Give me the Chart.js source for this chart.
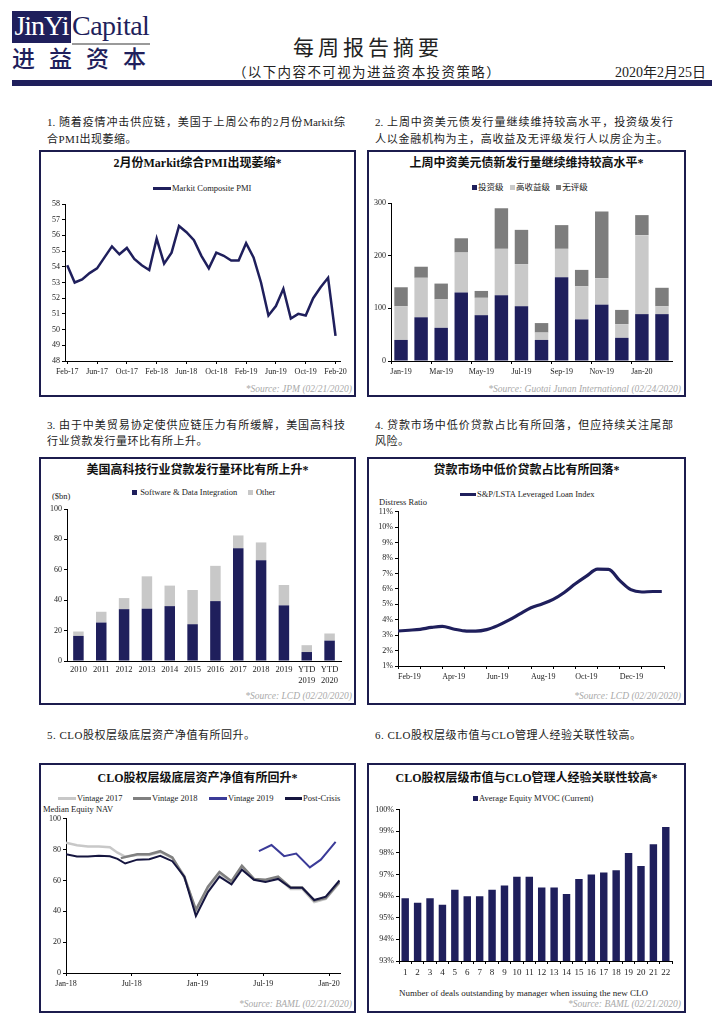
<!DOCTYPE html>
<html>
<head>
<meta charset="utf-8">
<script src="https://cdn.jsdelivr.net/npm/chart.js@4.4.0/dist/chart.umd.min.js"></script>
<style>
body{margin:0;width:724px;height:1024px;background:#fff;position:relative;overflow:hidden;font-family:"Liberation Serif","Noto Sans CJK SC",serif;color:#222}
.abs{position:absolute;white-space:nowrap}
.box{position:absolute;border:2px solid #1c1c4e;box-sizing:border-box}
.ttl{position:absolute;text-align:center;font-weight:bold;font-size:12px;line-height:18px;color:#111;white-space:nowrap}
.src{position:absolute;font-style:italic;color:#a9a9a9;font-size:9.5px;line-height:12px;white-space:nowrap}
.lg{position:absolute;font-size:8.5px;line-height:10px;white-space:nowrap;color:#222}
.lg i{display:inline-block;vertical-align:middle;margin:0 1px 1px 0}
.para{position:absolute;font-size:11px;line-height:16.5px;letter-spacing:0.5px;color:#222}
.para div{white-space:nowrap}
.para .j{text-align:justify;text-align-last:justify;white-space:normal;letter-spacing:0}
canvas{position:absolute}
</style>
</head>
<body>

<!-- header -->
<div class="abs" style="left:12px;top:11px;width:59px;height:32px;background:#1f1f5c"></div>
<div class="abs" style="left:12px;top:9px;width:59px;text-align:center;color:#fff;font-size:28px;line-height:34px;letter-spacing:-1px">JinYi</div>
<div class="abs" style="left:72px;top:9px;color:#1f1f5c;font-size:28px;line-height:34px;letter-spacing:-0.5px">Capital</div>
<div class="abs" style="left:72px;top:43px;width:78px;height:2px;background:#9a9a9a"></div>
<div class="abs" style="left:12px;top:46px;color:#1f1f5c;font-size:23px;line-height:28px;font-weight:500;letter-spacing:14px">进益资本</div>
<div class="abs" style="left:266px;top:34px;width:204px;text-align:center;font-size:21px;line-height:28px;letter-spacing:4px;color:#222">每周报告摘要</div>
<div class="abs" style="left:222px;top:64px;width:290px;text-align:center;font-size:13.5px;line-height:18px;letter-spacing:1.4px;color:#222">（以下内容不可视为进益资本投资策略）</div>
<div class="abs" style="left:560px;top:64px;width:146px;text-align:right;font-size:14px;line-height:18px;color:#222">2020年2月25日</div>
<div class="abs" style="left:12px;top:80px;width:700px;height:6px;background:#1f1f5c"></div>

<!-- paragraphs -->
<div class="para" style="left:47px;top:114px;width:298px"><div class="j">1. 随着疫情冲击供应链，美国于上周公布的2月份Markit综</div><div>合PMI出现萎缩。</div></div>
<div class="para" style="left:375px;top:114px;width:298px"><div class="j">2. 上周中资美元债发行量继续维持较高水平，投资级发行</div><div class="j" style="width:293px">人以金融机构为主，高收益及无评级发行人以房企为主。</div></div>
<div class="para" style="left:47px;top:416.5px;width:298px"><div class="j">3. 由于中美贸易协定使供应链压力有所缓解，美国高科技</div><div>行业贷款发行量环比有所上升。</div></div>
<div class="para" style="left:375px;top:416.5px;width:298px"><div class="j">4. 贷款市场中低价贷款占比有所回落，但应持续关注尾部</div><div>风险。</div></div>
<div class="para" style="left:47px;top:727px"><div>5. CLO股权层级底层资产净值有所回升。</div></div>
<div class="para" style="left:375px;top:727px"><div>6. CLO股权层级市值与CLO管理人经验关联性较高。</div></div>

<!-- boxes -->
<div class="box" style="left:39px;top:150px;width:317px;height:247px"></div>
<div class="box" style="left:367px;top:150px;width:319px;height:247px"></div>
<div class="box" style="left:39px;top:457px;width:317px;height:248px"></div>
<div class="box" style="left:367px;top:457px;width:319px;height:248px"></div>
<div class="box" style="left:39px;top:763px;width:317px;height:250px"></div>
<div class="box" style="left:367px;top:763px;width:319px;height:250px"></div>

<!-- titles -->
<div class="ttl" style="left:39px;width:317px;top:154px">2月份Markit综合PMI出现萎缩*</div>
<div class="ttl" style="left:367px;width:319px;top:154px">上周中资美元债新发行量继续维持较高水平*</div>
<div class="ttl" style="left:39px;width:317px;top:461px">美国高科技行业贷款发行量环比有所上升*</div>
<div class="ttl" style="left:367px;width:319px;top:461px">贷款市场中低价贷款占比有所回落*</div>
<div class="ttl" style="left:39px;width:317px;top:769px">CLO股权层级底层资产净值有所回升*</div>
<div class="ttl" style="left:367px;width:319px;top:769px">CLO股权层级市值与CLO管理人经验关联性较高*</div>

<!-- legends -->
<div class="lg" style="left:153px;top:183px"><i style="width:18px;height:3px;background:#1f1f5c"></i>Markit Composite PMI</div>
<div class="lg" style="left:472px;top:182px"><i style="width:5px;height:5px;background:#1f1f5c"></i>投资级 &nbsp;&nbsp;<i style="width:5px;height:5px;background:#c9c9c9"></i>高收益级 &nbsp;&nbsp;<i style="width:5px;height:5px;background:#7d7d7d"></i>无评级</div>
<div class="lg" style="left:132px;top:487px"><i style="width:5px;height:5px;background:#1f1f5c"></i> Software &amp; Data Integration &nbsp;&nbsp;&nbsp;&nbsp;<i style="width:5px;height:5px;background:#c8c8c8"></i> Other</div>
<div class="lg" style="left:52px;top:491px">($bn)</div>
<div class="lg" style="left:460px;top:489px"><i style="width:16px;height:3px;background:#1f1f5c"></i>S&amp;P/LSTA Leveraged Loan Index</div>
<div class="lg" style="left:379px;top:497px">Distress Ratio</div>
<div class="lg" style="left:58px;top:793px"><i style="width:18px;height:2.5px;background:#c8c8c8"></i>Vintage 2017</div>
<div class="lg" style="left:133px;top:793px"><i style="width:18px;height:2.5px;background:#808080"></i>Vintage 2018</div>
<div class="lg" style="left:209px;top:793px"><i style="width:18px;height:2.5px;background:#3b3b98"></i>Vintage 2019</div>
<div class="lg" style="left:285px;top:793px"><i style="width:17px;height:2.5px;background:#15153f"></i>Post-Crisis</div>
<div class="lg" style="left:43px;top:804px">Median Equity NAV</div>
<div class="lg" style="left:473px;top:793px"><i style="width:5px;height:5px;background:#1f1f5c"></i>Average Equity MVOC (Current)</div>
<div class="lg" style="left:399px;top:988px;font-size:9px">Number of deals outstanding by manager when issuing the new CLO</div>

<!-- sources -->
<div class="src" style="right:372px;top:383px">*Source: JPM (02/21/2020)</div>
<div class="src" style="right:43px;top:383px">*Source: Guotai Junan International (02/24/2020)</div>
<div class="src" style="right:372px;top:690px">*Source: LCD (02/20/2020)</div>
<div class="src" style="right:43px;top:690px">*Source: LCD (02/20/2020)</div>
<div class="src" style="right:372px;top:998px">*Source: BAML (02/21/2020)</div>
<div class="src" style="right:43px;top:998px">*Source: BAML (02/21/2020)</div>

<canvas id="c1" width="313" height="189" style="left:41px;top:196px"></canvas>
<canvas id="c2" width="315" height="189" style="left:369px;top:196px"></canvas>
<canvas id="c3" width="313" height="190" style="left:41px;top:500px"></canvas>
<canvas id="c4" width="315" height="185" style="left:369px;top:505px"></canvas>
<canvas id="c5" width="313" height="183" style="left:41px;top:812px"></canvas>
<canvas id="c6" width="315" height="182" style="left:369px;top:803px"></canvas>

<script>
// ---- chart 1: Markit composite PMI, Feb-17 .. Feb-20 (monthly)
const pmiValues = [54.1, 53.0, 53.2, 53.6, 53.9, 54.6, 55.3, 54.8, 55.2, 54.5, 54.1, 53.8,
    55.8, 54.2, 54.9, 56.6, 56.2, 55.7, 54.7, 53.9, 54.9, 54.7, 54.4, 54.4,
    55.5, 54.6, 53.0, 50.9, 51.5, 52.6, 50.7, 51.0, 50.9, 52.0, 52.7, 53.3, 49.6];
const pmiTickIdx = [0, 4, 8, 12, 16, 20, 24, 28, 32, 36];
const pmiTickLabels = ['Feb-17', 'Jun-17', 'Oct-17', 'Feb-18', 'Jun-18', 'Oct-18', 'Feb-19', 'Jun-19', 'Oct-19', 'Feb-20'];

// ---- chart 2: USD bond issuance by Chinese issuers
const issueMonths = ['Jan-19', 'Feb-19', 'Mar-19', 'Apr-19', 'May-19', 'Jun-19', 'Jul-19', 'Aug-19', 'Sep-19', 'Oct-19', 'Nov-19', 'Dec-19', 'Jan-20', 'Feb-20'];
const issueIG = [40, 83, 63, 130, 87, 125, 104, 40, 159, 79, 107, 44, 89, 89];
const issueHY = [64, 75, 54, 76, 33, 88, 80, 14, 54, 63, 50, 26, 150, 15];
const issueNR = [36, 21, 30, 27, 13, 77, 65, 18, 45, 31, 127, 27, 38, 35];

// ---- chart 3: US tech loan issuance ($bn)
const techYears = ['2010', '2011', '2012', '2013', '2014', '2015', '2016', '2017', '2018', '2019', ['YTD', '2019'], ['YTD', '2020']];
const techSoftware = [16.5, 25.3, 34.1, 34.4, 36.1, 24.2, 39.4, 74.2, 66.3, 36.6, 5.9, 13.4];
const techOther = [2.9, 7.1, 7.3, 21.3, 13.5, 22.5, 23.2, 8.4, 11.7, 13.4, 4.5, 4.7];

// ---- chart 4: distress ratio (months since Feb-19)
const loanMonth = [0, 0.5, 1, 1.5, 2, 2.5, 3, 3.5, 4, 4.5, 5, 5.5, 6, 6.5, 7, 7.5, 8, 8.5, 9, 9.5, 10, 10.5, 11, 11.5, 11.9];
const loanRatio = [3.27, 3.32, 3.38, 3.5, 3.57, 3.4, 3.28, 3.26, 3.36, 3.62, 3.97, 4.38, 4.78, 5.02, 5.32, 5.77, 6.33, 6.83, 7.28, 7.27, 6.55, 5.95, 5.8, 5.83, 5.83];
const loanTickLabels = ['Feb-19', 'Apr-19', 'Jun-19', 'Aug-19', 'Oct-19', 'Dec-19'];

// ---- chart 5: CLO median equity NAV (months since Jan-18)
const navMonth = [0, 1, 2, 3, 4, 4.7, 5.4, 6.5, 7.6, 8.6, 9.7, 10.8, 11.85, 12.95, 14, 15.1, 16.05, 17.15, 18.2, 19.35, 20.5, 21.55, 22.65, 23.7, 24.95];
const navPostCrisis = [77, 75.5, 75.5, 76, 75.7, 74, 71, 73.5, 73.8, 76, 72.5, 62.5, 37, 52.5, 62.5, 57.5, 67, 60.5, 59, 61, 55.3, 55.3, 47.3, 49.5, 60];
const navV2017 = [84.5, 82.8, 82, 82, 81.5, 78, 75.5, 76.5, 76.5, 78.5, 74.5, 63, 40, 55, 64.5, 59, 68.5, 60.5, 60, 61.5, 54.5, 54.5, 46, 48, 58.5];
const navMonth2018 = [5.0, 6.5, 7.6, 8.6, 9.7, 10.8, 11.85, 12.95, 14, 15.1, 16.05, 17.15, 18.2, 19.35, 20.5, 21.55, 22.65, 23.7, 24.95];
const navV2018 = [74.5, 77, 77, 79, 75, 62, 41, 56, 65.5, 59.5, 69.5, 61, 60.5, 62.5, 55.5, 55.5, 47, 48.5, 59];
const navMonth2019 = [17.6, 18.75, 19.9, 21, 22.25, 23.25, 24.6];
const navV2019 = [79, 83, 75.8, 77.5, 68.5, 73.5, 85];
const navTickIdx = [0, 6, 12, 18, 24];
const navTickLabels = ['Jan-18', 'Jul-18', 'Jan-19', 'Jul-19', 'Jan-20'];

// ---- chart 6: average equity MVOC by number of deals
const dealCounts = ['1', '2', '3', '4', '5', '6', '7', '8', '9', '10', '11', '12', '13', '14', '15', '16', '17', '18', '19', '20', '21', '22'];
const mvoc = [95.9, 95.7, 95.9, 95.6, 96.3, 96.0, 96.0, 96.3, 96.5, 96.9, 96.9, 96.4, 96.4, 96.1, 96.8, 97.0, 97.1, 97.2, 98.0, 97.4, 98.4, 99.2];

const NAVY = '#1f1f5c';

Chart.defaults.font.family = '"Liberation Serif","Noto Sans CJK SC",serif';
Chart.defaults.font.size = 8;
Chart.defaults.color = '#222';

function pts(xs, ys) {
    return ys.map((v, i) => ({ x: xs[i], y: v }));
}

function baseOpts(pad, scales) {
    return {
        responsive: false,
        animation: false,
        layout: { padding: pad },
        plugins: { legend: { display: false }, tooltip: { enabled: false } },
        scales: scales
    };
}

function yAxis(w, min, max, step, fmt) {
    return {
        min: min, max: max,
        afterFit: s => { s.width = w; },
        border: { color: '#000' },
        grid: { drawOnChartArea: false, tickLength: 3, color: '#000' },
        ticks: { stepSize: step, padding: 2, color: '#222', callback: fmt || (v => v) }
    };
}

function xGrid(showFn) {
    return {
        drawOnChartArea: false, tickLength: 3,
        color: ctx => (showFn ? (showFn(ctx.index) ? '#000' : 'rgba(0,0,0,0)') : '#000')
    };
}

// chart 1
new Chart(document.getElementById('c1'), {
    type: 'line',
    data: { datasets: [{ data: pmiValues.map((v, i) => ({ x: i, y: v })), borderColor: NAVY, borderWidth: 2.5, pointRadius: 0, tension: 0 }] },
    options: baseOpts({ top: 8, right: 14, bottom: 2, left: 0 }, {
        x: {
            type: 'linear', min: -0.3, max: 36.6,
            afterBuildTicks: s => { s.ticks = pmiTickIdx.map(v => ({ value: v })); },
            afterFit: s => { s.height = 22; },
            border: { color: '#000' }, grid: xGrid(),
            ticks: { padding: 3, maxRotation: 0, autoSkip: false, callback: (v, i) => pmiTickLabels[i] }
        },
        y: yAxis(24, 48, 58, 1)
    })
});

// chart 2
new Chart(document.getElementById('c2'), {
    type: 'bar',
    data: {
        labels: issueMonths,
        datasets: [
            { label: '投资级', data: issueIG, backgroundColor: NAVY },
            { label: '高收益级', data: issueHY, backgroundColor: '#c9c9c9' },
            { label: '无评级', data: issueNR, backgroundColor: '#7d7d7d' }
        ]
    },
    options: Object.assign(baseOpts({ top: 7, right: 12, bottom: 2, left: 0 }, {
        x: {
            stacked: true,
            afterFit: s => { s.height = 22; },
            border: { color: '#000' },
            grid: Object.assign(xGrid(i => i % 2 === 0), { offset: true }),
            ticks: { padding: 3, maxRotation: 0, autoSkip: false, callback: (v, i) => (i % 2 === 0 ? issueMonths[i] : '') }
        },
        y: Object.assign(yAxis(22, 0, 300, 100), { stacked: true })
    }), { datasets: { bar: { barPercentage: 0.67, categoryPercentage: 1 } } })
});

// chart 3
new Chart(document.getElementById('c3'), {
    type: 'bar',
    data: {
        labels: techYears,
        datasets: [
            { label: 'Software & Data Integration', data: techSoftware, backgroundColor: NAVY },
            { label: 'Other', data: techOther, backgroundColor: '#c8c8c8' }
        ]
    },
    options: Object.assign(baseOpts({ top: 9, right: 13, bottom: 2, left: 0 }, {
        x: {
            stacked: true,
            afterFit: s => { s.height = 27; },
            border: { color: '#000' }, grid: { display: false, drawTicks: false },
            ticks: { padding: 4, maxRotation: 0, autoSkip: false, font: { size: 8.5 } }
        },
        y: Object.assign(yAxis(26, 0, 100, 20), { stacked: true })
    }), { datasets: { bar: { barPercentage: 0.46, categoryPercentage: 1 } } })
});

// chart 4
new Chart(document.getElementById('c4'), {
    type: 'line',
    data: { datasets: [{ data: pts(loanMonth, loanRatio), borderColor: NAVY, borderWidth: 3.2, pointRadius: 0, cubicInterpolationMode: 'monotone' }] },
    options: baseOpts({ top: 6, right: 20, bottom: 2, left: 0 }, {
        x: {
            type: 'linear', min: 0, max: 12,
            afterBuildTicks: s => { s.ticks = [0, 1, 2, 3, 4, 5, 6, 7, 8, 9, 10, 11, 12].map(v => ({ value: v })); },
            afterFit: s => { s.height = 22; },
            border: { color: '#000' }, grid: xGrid(),
            ticks: { padding: 3, align: 'start', maxRotation: 0, autoSkip: false, callback: (v, i) => (i % 2 === 0 && i < 12 ? loanTickLabels[i / 2] : '') }
        },
        y: yAxis(29, 1, 11, 1, v => v + '%')
    })
});

// chart 5
new Chart(document.getElementById('c5'), {
    type: 'line',
    data: {
        datasets: [
            { data: pts(navMonth, navPostCrisis), borderColor: '#15153f', borderWidth: 2, pointRadius: 0, tension: 0, order: 0 },
            { data: pts(navMonth2019, navV2019), borderColor: '#3b3b98', borderWidth: 2, pointRadius: 0, tension: 0, order: 1 },
            { data: pts(navMonth2018, navV2018), borderColor: '#808080', borderWidth: 2.5, pointRadius: 0, tension: 0, order: 2 },
            { data: pts(navMonth, navV2017), borderColor: '#c8c8c8', borderWidth: 2.5, pointRadius: 0, tension: 0, order: 3 }
        ]
    },
    options: baseOpts({ top: 5, right: 14, bottom: 0, left: 0 }, {
        x: {
            type: 'linear', min: 0, max: 25,
            afterBuildTicks: s => { s.ticks = navTickIdx.map(v => ({ value: v })); },
            afterFit: s => { s.height = 22; },
            border: { color: '#000' }, grid: xGrid(),
            ticks: { padding: 3, maxRotation: 0, autoSkip: false, callback: (v, i) => navTickLabels[i] }
        },
        y: yAxis(25, 0, 100, 20)
    })
});

// chart 6
new Chart(document.getElementById('c6'), {
    type: 'bar',
    data: { labels: dealCounts, datasets: [{ label: 'Average Equity MVOC (Current)', data: mvoc, backgroundColor: NAVY }] },
    options: Object.assign(baseOpts({ top: 5, right: 12, bottom: 8, left: 0 }, {
        x: {
            afterFit: s => { s.height = 16; },
            border: { color: '#000' },
            grid: Object.assign(xGrid(), { offset: true }),
            ticks: { padding: 3, maxRotation: 0, autoSkip: false, font: { size: 9 } }
        },
        y: yAxis(30, 93, 100, 1, v => v + '%')
    }), { datasets: { bar: { barPercentage: 0.6, categoryPercentage: 1 } } })
});
</script>
</body>
</html>
